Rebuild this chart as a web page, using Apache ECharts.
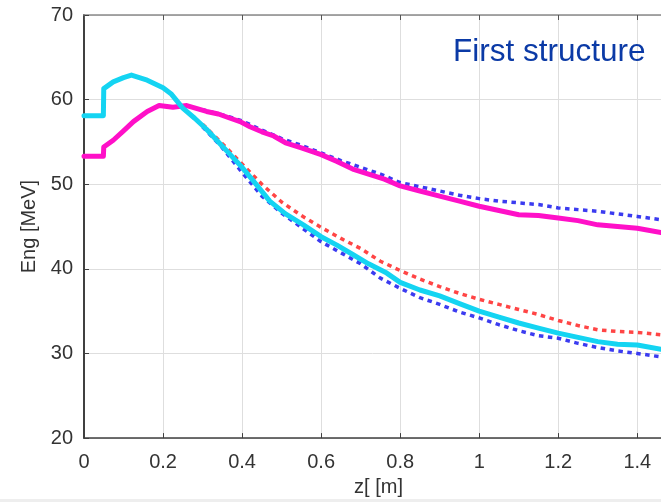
<!DOCTYPE html>
<html>
<head>
<meta charset="utf-8">
<script src="https://cdn.jsdelivr.net/npm/echarts@6/dist/echarts.min.js"></script>
<style>
  html, body { margin: 0; padding: 0; background: #ffffff; }
  #chart { width: 661px; height: 502px; }
</style>
</head>
<body>
<div id="chart"></div>
<script>
// Beam energy along the first accelerating structure

// Solid traces (simulation)
const zCyan = [0, 0.049, 0.05, 0.074, 0.1, 0.12, 0.16, 0.2, 0.22, 0.25, 0.28, 0.31, 0.34, 0.37, 0.4, 0.43, 0.47, 0.51, 0.555, 0.6, 0.64, 0.68, 0.72, 0.766, 0.8, 0.85, 0.9, 0.95, 1.0, 1.05, 1.1, 1.15, 1.2, 1.25, 1.3, 1.35, 1.4, 1.46];
const engCyan = [58.1, 58.1, 61.3, 62.1, 62.6, 62.9, 62.3, 61.4, 60.7, 59.0, 57.8, 56.5, 55.0, 53.5, 52.0, 50.3, 48.0, 46.5, 45.2, 43.8, 42.8, 41.7, 40.6, 39.5, 38.4, 37.5, 36.8, 35.9, 35.0, 34.3, 33.6, 33.0, 32.4, 31.9, 31.4, 31.1, 31.0, 30.5];

const zMagenta = [0, 0.049, 0.05, 0.074, 0.1, 0.125, 0.16, 0.19, 0.225, 0.26, 0.31, 0.34, 0.37, 0.395, 0.42, 0.45, 0.48, 0.51, 0.55, 0.6, 0.64, 0.68, 0.72, 0.76, 0.8, 0.85, 0.9, 0.95, 1.0, 1.05, 1.1, 1.15, 1.2, 1.25, 1.3, 1.35, 1.4, 1.46];
const engMagenta = [53.3, 53.3, 54.4, 55.2, 56.3, 57.4, 58.6, 59.3, 59.1, 59.3, 58.6, 58.3, 57.8, 57.4, 56.8, 56.2, 55.7, 54.9, 54.3, 53.5, 52.7, 51.8, 51.2, 50.6, 49.8, 49.2, 48.6, 48.0, 47.4, 46.9, 46.4, 46.3, 46.0, 45.7, 45.2, 45.0, 44.8, 44.3];

// Dotted traces (comparison)
const zDotted = [0.3, 0.35, 0.4, 0.45, 0.5, 0.55, 0.6, 0.65, 0.7, 0.75, 0.8, 0.85, 0.9, 0.95, 1.0, 1.05, 1.1, 1.15, 1.2, 1.25, 1.3, 1.35, 1.4, 1.46];
const engBlueUpper = [58.8, 58.2, 57.5, 56.4, 55.4, 54.6, 53.7, 52.8, 52.0, 51.2, 50.2, 49.7, 49.2, 48.7, 48.3, 48.0, 47.8, 47.6, 47.2, 47.0, 46.8, 46.5, 46.2, 45.8];
const engRed = [57.1, 54.8, 52.4, 50.0, 47.9, 46.3, 44.9, 43.6, 42.4, 40.9, 39.8, 38.8, 37.9, 37.1, 36.4, 35.8, 35.2, 34.6, 33.9, 33.3, 32.8, 32.6, 32.5, 32.2];
const engBlueLower = [56.8, 54.3, 51.4, 48.6, 46.6, 44.9, 43.2, 41.9, 40.6, 38.9, 37.7, 36.6, 35.8, 34.9, 34.2, 33.4, 32.7, 32.1, 31.8, 31.2, 30.7, 30.3, 30.0, 29.6];

const xTicks = [0, 0.2, 0.4, 0.6, 0.8, 1, 1.2, 1.4];
const yTicks = [20, 30, 40, 50, 60, 70];

function pairs(xs, ys) { return xs.map((x, i) => [x, ys[i]]); }

const FONT = '"Liberation Sans", Arial, sans-serif';
const AXIS = '#404040';

const chart = echarts.init(document.getElementById('chart'), null, { renderer: 'canvas' });

function dotted(name, color, xs, ys) {
  return {
    name, type: 'line', xAxisIndex: 0, yAxisIndex: 0,
    data: pairs(xs, ys), showSymbol: false, symbol: 'none', z: 2,
    lineStyle: { color, width: 3.5, type: [4.5, 4.5], cap: 'butt' }
  };
}
function solid(name, color, xs, ys) {
  return {
    name, type: 'line', xAxisIndex: 0, yAxisIndex: 0,
    data: pairs(xs, ys), showSymbol: false, symbol: 'none', z: 3,
    lineStyle: { color, width: 5, cap: 'round', join: 'round' }
  };
}

chart.setOption({
  animation: false,
  backgroundColor: '#ffffff',
  grid: { left: 84, top: 15, right: 0, bottom: 63, containLabel: false },
  xAxis: [
    {
      type: 'value', position: 'bottom',
      min: 0, max: 1.46, interval: 0.2,
      name: 'z[ [m]', nameLocation: 'middle', nameGap: 36,
      nameTextStyle: { fontFamily: FONT, fontSize: 20, color: '#333333', padding: [0, 0, 0, 12] },
      axisLine: { show: true, onZero: false, lineStyle: { color: AXIS, width: 1.5 } },
      axisTick: { show: true, inside: true, length: 5, lineStyle: { color: AXIS } },
      axisLabel: {
        fontFamily: FONT, fontSize: 20, color: '#333333', margin: 14,
        showMaxLabel: false,
        formatter: v => xTicks.some(t => Math.abs(t - v) < 1e-6) ? String(+v.toFixed(1)) : ''
      },
      splitLine: { show: true, lineStyle: { color: '#dedede', width: 1 } }
    },
    {
      type: 'value', position: 'top',
      min: 0, max: 1.46, interval: 0.2,
      axisLine: { show: true, onZero: false, lineStyle: { color: '#8a8a8a', width: 1.5 } },
      axisTick: { show: true, inside: true, length: 5, lineStyle: { color: '#555555' } },
      axisLabel: { show: false },
      splitLine: { show: false }
    }
  ],
  yAxis: {
    type: 'value', min: 20, max: 70, interval: 10,
    name: 'Eng [MeV]', nameLocation: 'middle', nameGap: 42, nameRotate: 90,
    nameTextStyle: { fontFamily: FONT, fontSize: 20, color: '#333333' },
    axisLine: { show: true, onZero: false, lineStyle: { color: AXIS, width: 2 } },
    axisTick: { show: true, inside: true, length: 5, lineStyle: { color: AXIS } },
    axisLabel: {
      fontFamily: FONT, fontSize: 20, color: '#333333', margin: 11,
      formatter: v => yTicks.includes(v) ? String(v) : ''
    },
    splitLine: { show: true, lineStyle: { color: '#dedede', width: 1 } }
  },
  graphic: [
    {
      type: 'text', x: 453, y: 52, z: 10,
      style: { text: 'First structure', fill: '#0b3aa6', font: '31.5px ' + FONT, align: 'left', verticalAlign: 'middle' }
    },
    {
      type: 'rect', shape: { x: 0, y: 499, width: 661, height: 3 },
      style: { fill: '#eeeeee' }, silent: true
    }
  ],
  series: [
    dotted('upper reference', '#3b3bf0', zDotted, engBlueUpper),
    dotted('lower reference', '#3b3bf0', zDotted, engBlueLower),
    dotted('red reference', '#ff4545', zDotted, engRed),
    solid('magenta', '#ff10c8', zMagenta, engMagenta),
    solid('cyan', '#14d4f2', zCyan, engCyan)
  ]
});
</script>
</body>
</html>
